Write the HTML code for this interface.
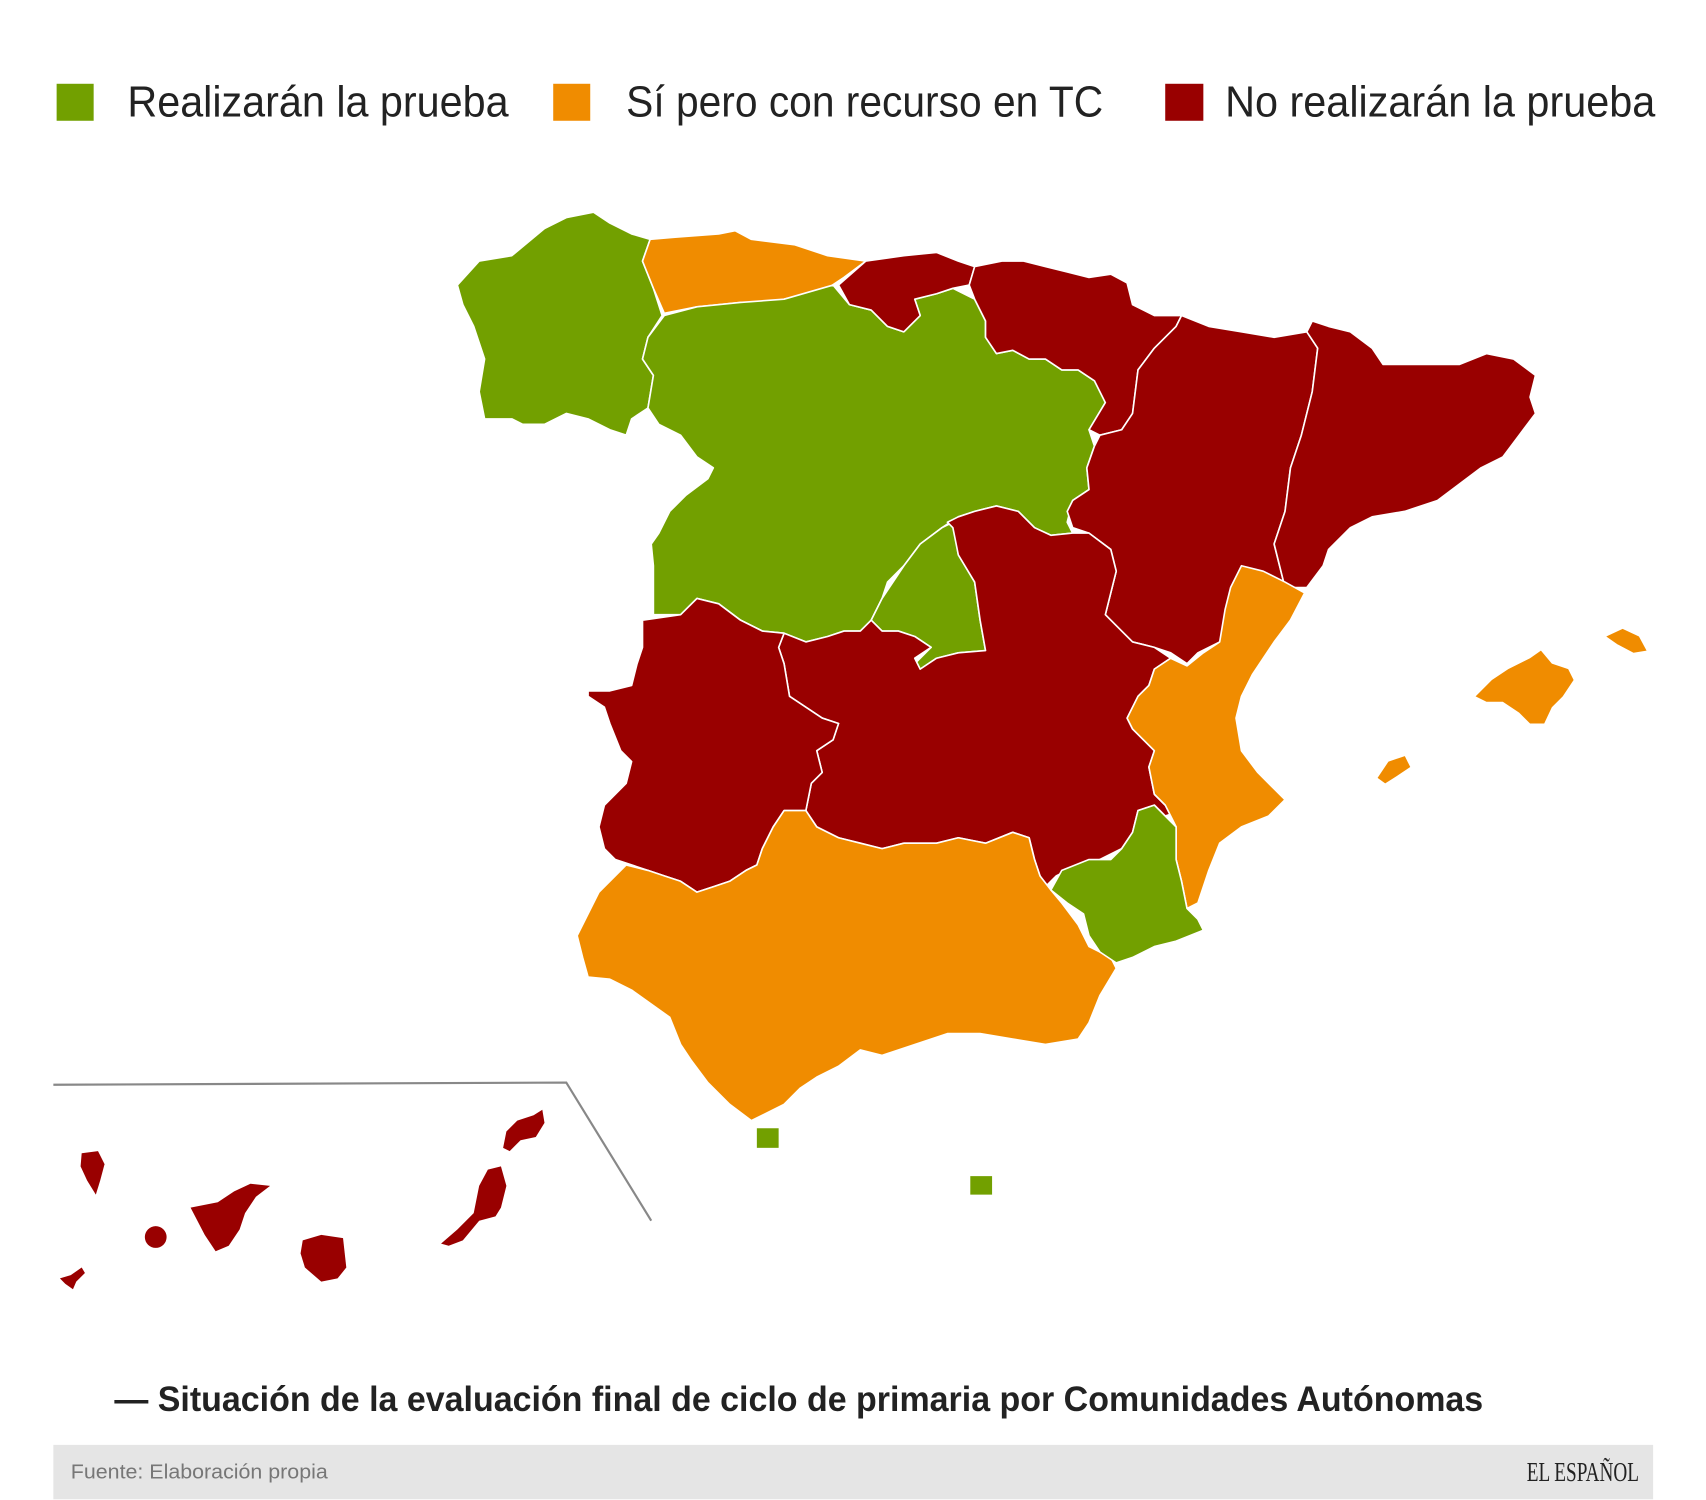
<!DOCTYPE html>
<html><head><meta charset="utf-8"><style>
html,body{margin:0;padding:0;background:#fff;}
svg{display:block;}
</style></head><body>
<svg width="1706" height="1500" xmlns="http://www.w3.org/2000/svg">
<g transform="scale(1.089,1.088)">
<!-- legend -->
<rect x="52" y="77" width="34" height="34" fill="#72a000"/>
<text x="117" y="107" font-family="Liberation Sans, sans-serif" font-size="40" fill="#222" textLength="350" lengthAdjust="spacingAndGlyphs">Realizarán la prueba</text>
<rect x="508" y="77" width="34" height="34" fill="#f08c00"/>
<text x="575" y="107" font-family="Liberation Sans, sans-serif" font-size="40" fill="#222" textLength="438" lengthAdjust="spacingAndGlyphs">Sí pero con recurso en TC</text>
<rect x="1070" y="77" width="35" height="34" fill="#990000"/>
<text x="1125" y="107" font-family="Liberation Sans, sans-serif" font-size="40" fill="#222" textLength="395" lengthAdjust="spacingAndGlyphs">No realizarán la prueba</text>

<g stroke="#fff" stroke-width="1.5" stroke-linejoin="round">
<polygon fill="#72a000" points="420,262 440,240 470,235 500,210 520,200 545,195 560,205 580,215 597,220 590,240 600,265 608,290 595,310 590,330 600,345 595,375 580,385 575,400 560,395 540,385 520,380 500,390 480,390 470,385 455,385 445,385 440,360 445,330 435,300 425,280"/>
<polygon fill="#f08c00" points="597,220 620,218 660,215 675,212 690,220 730,225 760,235 795,240 775,255 760,265 740,270 720,275 700,280 680,278 660,280 640,282 625,285 610,288 600,265 590,240"/>
<polygon fill="#72a000" points="610,290 640,282 680,278 720,275 765,262 780,280 800,285 815,300 830,305 845,290 840,275 860,270 875,265 895,275 905,295 905,310 915,325 930,322 945,330 960,330 975,340 990,340 1005,350 1015,370 1000,395 1005,410 998,430 1000,450 985,460 980,480 985,490 965,492 950,485 935,470 915,465 895,470 880,475 865,485 845,500 830,520 815,535 810,550 800,570 790,580 775,580 760,585 740,590 720,582 700,580 680,570 660,555 640,550 625,565 600,565 600,545 600,520 598,500 605,490 615,470 630,455 650,440 655,430 640,420 625,400 605,390 595,375 600,345 590,330 595,310"/>
<polygon fill="#72a000" points="865,485 875,480 880,510 895,535 900,570 905,598 880,600 860,605 845,615 840,610 855,595 840,585 825,580 810,580 800,570 810,550 830,520 845,500"/>
<polygon fill="#990000" points="770,262 795,240 830,235 860,232 880,240 895,245 890,262 875,265 860,270 840,275 845,290 830,305 815,300 800,285 780,280"/>
<polygon fill="#990000" points="895,245 920,240 940,240 960,245 980,250 1000,255 1020,252 1035,260 1040,280 1060,290 1085,290 1080,300 1060,320 1045,340 1040,380 1030,395 1010,400 1000,395 1015,370 1005,350 990,340 975,340 960,330 945,330 930,322 915,325 905,310 905,295 895,275 890,262"/>
<polygon fill="#990000" points="1085,290 1110,300 1140,305 1170,310 1200,305 1210,320 1205,360 1195,400 1185,430 1180,470 1170,500 1175,520 1180,540 1170,560 1160,570 1140,580 1120,590 1100,600 1090,610 1075,600 1060,595 1040,590 1030,580 1015,565 1020,545 1025,525 1020,505 1000,490 985,485 980,470 985,460 1000,450 998,430 1005,410 1010,400 1030,395 1040,380 1045,340 1060,320 1080,300"/>
<polygon fill="#990000" points="1200,305 1205,295 1220,300 1240,305 1260,320 1270,335 1290,335 1310,335 1340,335 1365,325 1390,330 1410,345 1405,365 1410,380 1395,400 1380,420 1360,430 1340,445 1320,460 1290,470 1260,475 1240,485 1220,505 1215,520 1200,540 1180,540 1175,520 1170,500 1180,470 1185,430 1195,400 1205,360 1210,320"/>
<polygon fill="#990000" points="870,480 880,475 895,470 915,465 935,470 950,485 965,492 985,490 1000,490 1020,505 1025,525 1020,545 1015,565 1030,580 1040,590 1060,595 1075,605 1060,615 1055,630 1045,640 1035,660 1040,670 1050,680 1060,690 1055,705 1060,730 1070,740 1085,745 1070,750 1060,740 1045,745 1040,765 1030,780 1010,790 990,795 970,805 960,815 955,805 950,790 945,770 930,765 905,775 880,770 860,775 830,775 810,780 790,775 770,770 750,760 740,745 745,720 755,710 750,690 765,680 770,665 755,660 740,650 725,640 720,610 715,595 720,582 740,590 760,585 775,580 790,580 800,570 810,580 825,580 840,585 855,595 840,605 845,615 860,605 880,600 905,598 900,570 895,535 880,510 875,485"/>
<polygon fill="#f08c00" points="1140,520 1160,525 1180,535 1198,545 1185,570 1170,590 1150,620 1140,640 1135,660 1140,690 1155,710 1170,725 1180,735 1165,750 1140,760 1120,775 1110,800 1100,830 1090,835 1085,810 1080,790 1080,760 1070,740 1060,730 1055,705 1060,690 1050,680 1040,670 1035,660 1045,640 1055,630 1060,615 1075,605 1090,612 1105,600 1120,590 1125,560 1130,540"/>
<polygon fill="#990000" points="590,570 625,565 640,550 660,555 680,570 700,580 720,582 715,595 720,610 725,640 740,650 755,660 770,665 765,680 750,690 755,710 745,720 740,745 720,745 710,760 700,780 695,795 685,800 670,810 655,815 640,820 625,810 610,805 595,800 580,795 565,790 555,780 550,760 555,740 575,720 580,700 570,690 560,665 555,650 540,640 540,635 560,635 580,630 585,610 590,595"/>
<polygon fill="#f08c00" points="575,795 595,800 610,805 625,810 640,820 655,815 670,810 685,800 695,795 700,780 710,760 720,745 740,745 750,760 770,770 790,775 810,780 830,775 860,775 880,770 905,775 930,765 945,770 950,790 955,805 965,818 975,830 990,850 1000,870 1020,880 1025,890 1010,915 1000,940 990,955 960,960 930,955 900,950 870,950 840,960 810,970 790,965 770,980 750,990 735,1000 720,1015 700,1025 690,1030 670,1015 650,995 635,975 625,960 615,935 580,910 560,900 540,898 535,880 530,860 540,840 550,820"/>
<polygon fill="#72a000" points="965,818 975,800 1000,790 1020,790 1030,780 1040,765 1045,745 1060,740 1070,750 1080,760 1080,790 1085,810 1090,835 1100,845 1105,855 1080,865 1060,870 1040,880 1025,885 1010,875 1000,860 995,840 980,830"/>
</g>
<g fill="#f08c00">
<polygon points="1355,640 1370,625 1385,615 1405,605 1415,598 1425,610 1440,615 1445,625 1435,640 1425,650 1418,665 1405,665 1395,655 1380,645 1365,645"/>
<polygon points="1475,585 1490,578 1505,585 1512,598 1500,600 1485,592"/>
<polygon points="1265,715 1275,700 1290,695 1295,705 1280,715 1272,720"/>
</g>
<rect x="695" y="1037" width="20" height="18" fill="#72a000"/>
<rect x="891" y="1081" width="20" height="17" fill="#72a000"/>
<polyline points="49,997 520,995 598,1122" fill="none" stroke="#888" stroke-width="2"/>
<g fill="#990000">
<polygon points="75,1060 90,1058 96,1070 92,1085 88,1098 80,1085 74,1072"/>
<polygon points="55,1175 65,1172 75,1165 78,1170 70,1178 67,1185 60,1180"/>
<circle cx="143" cy="1137" r="10"/>
<polygon points="175,1110 200,1105 215,1095 230,1088 248,1090 235,1100 225,1115 220,1130 210,1145 198,1150 188,1135"/>
<polygon points="278,1140 295,1135 315,1138 318,1165 310,1175 295,1178 280,1165 276,1152"/>
<polygon points="405,1143 420,1130 435,1115 440,1090 448,1075 460,1072 465,1090 460,1110 455,1118 440,1122 425,1140 412,1145"/>
<polygon points="462,1055 465,1040 475,1030 490,1025 498,1020 500,1032 492,1045 478,1048 468,1058"/>
</g>
<text x="105" y="1297" font-family="Liberation Sans, sans-serif" font-size="32" font-weight="bold" fill="#222" textLength="1257" lengthAdjust="spacingAndGlyphs">— Situación de la evaluación final de ciclo de primaria por Comunidades Autónomas</text>
<rect x="49" y="1328" width="1469" height="50" fill="#e5e5e5"/>
<text x="65" y="1359" font-family="Liberation Sans, sans-serif" font-size="19" fill="#777" textLength="236" lengthAdjust="spacingAndGlyphs">Fuente: Elaboración propia</text>
<text x="1402" y="1361" font-family="Liberation Serif, serif" font-size="25" fill="#222" textLength="103" lengthAdjust="spacingAndGlyphs">EL ESPAÑOL</text>
</g>
</svg>
</body></html>
